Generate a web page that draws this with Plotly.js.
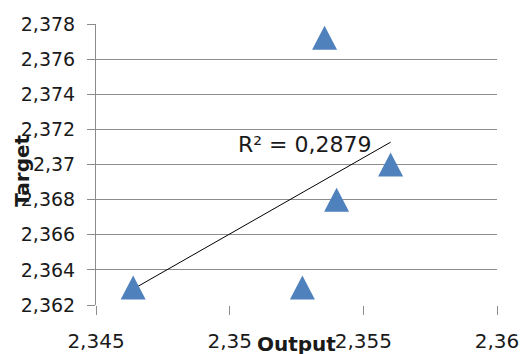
<!DOCTYPE html>
<html>
<head>
<meta charset="utf-8">
<script src="https://cdn.plot.ly/plotly-3.0.1.min.js"></script>
<style>
  html, body { margin: 0; padding: 0; background: #fff; }
  #chart { width: 521px; height: 354px; }
</style>
</head>
<body>
<div id="chart"></div>
<script>
// Output vs Target samples
const outputVals = [2.34639, 2.35272, 2.35355, 2.35602, 2.35400];
const targetVals = [2.363, 2.363, 2.37722, 2.370, 2.368];

// Axis ticks (decimal comma labels)
const xTickVals = [2.345, 2.35, 2.355, 2.36];
const xTickText = ['2,345', '2,35', '2,355', '2,36'];
const yTickVals = [2.362, 2.364, 2.366, 2.368, 2.37, 2.372, 2.374, 2.376, 2.378];
const yTickText = ['2,362', '2,364', '2,366', '2,368', '2,37', '2,372', '2,374', '2,376', '2,378'];

const r2Label = 'R\u00b2 = 0,2879';

// Least-squares linear trend line over the sample range
function linearFit(xs, ys) {
  const n = xs.length;
  const mx = xs.reduce((a, b) => a + b, 0) / n;
  const my = ys.reduce((a, b) => a + b, 0) / n;
  let sxy = 0, sxx = 0;
  for (let i = 0; i < n; i++) {
    sxy += (xs[i] - mx) * (ys[i] - my);
    sxx += (xs[i] - mx) * (xs[i] - mx);
  }
  const slope = sxy / sxx;
  return { slope: slope, intercept: my - slope * mx };
}
const fit = linearFit(outputVals, targetVals);
const xMin = Math.min(...outputVals);
const xMax = Math.max(...outputVals);
const trendX = [xMin, xMax];
const trendY = trendX.map(x => fit.intercept + fit.slope * x);

const markerColor = '#4F81BD';
const gridColor = '#8c8c8c';
const textColor = '#1a1a1a';

// Tall triangle markers (pixel-sized, anchored at each data point)
const triShapes = outputVals.map((x, i) => ({
  type: 'path',
  xref: 'x', yref: 'y',
  xsizemode: 'pixel', ysizemode: 'pixel',
  xanchor: x, yanchor: targetVals[i],
  path: 'M -12.5,-12 L 12.5,-12 L 0,12 Z',
  fillcolor: markerColor,
  line: { width: 0 },
  layer: 'above'
}));

const traces = [
  {
    x: outputVals, y: targetVals,
    type: 'scatter', mode: 'markers',
    marker: { symbol: 'triangle-up', size: 1, color: markerColor, opacity: 0 },
    hoverinfo: 'x+y', showlegend: false
  },
  {
    x: trendX, y: trendY,
    type: 'scatter', mode: 'lines',
    line: { color: '#000000', width: 1 },
    hoverinfo: 'skip', showlegend: false
  }
];

const titleFont = { family: 'DejaVu Sans', size: 20, color: textColor, weight: 'bold' };

const layout = {
  width: 521, height: 354,
  margin: { l: 96, r: 24, t: 24, b: 49, pad: 0 },
  paper_bgcolor: '#ffffff', plot_bgcolor: '#ffffff',
  separators: ',.',
  showlegend: false,
  xaxis: {
    range: [2.345, 2.36],
    tickmode: 'array', tickvals: xTickVals, ticktext: xTickText,
    showgrid: false, zeroline: false,
    showline: false,
    ticks: 'outside', ticklen: 9, tickwidth: 1, tickcolor: gridColor,
    ticklabelstandoff: 9,
    tickfont: { family: 'DejaVu Sans', size: 20, color: textColor },
    fixedrange: true
  },
  yaxis: {
    range: [2.362, 2.378],
    tickmode: 'array', tickvals: yTickVals, ticktext: yTickText,
    showgrid: true, gridcolor: gridColor, gridwidth: 1,
    zeroline: false,
    showline: true, linecolor: gridColor, linewidth: 1,
    ticks: 'outside', ticklen: 8, tickwidth: 1, tickcolor: gridColor,
    ticklabelstandoff: 8,
    tickfont: { family: 'DejaVu Sans', size: 19, color: textColor },
    fixedrange: true
  },
  shapes: triShapes,
  annotations: [
    {
      text: r2Label, x: 2.3528, y: 2.37113, xref: 'x', yref: 'y',
      xanchor: 'center', yanchor: 'middle', showarrow: false,
      font: { family: 'DejaVu Sans', size: 22, color: textColor }
    },
    {
      text: 'Output', xref: 'paper', yref: 'paper', x: 0.5, y: -0.14,
      xanchor: 'center', yanchor: 'middle', showarrow: false,
      font: titleFont
    },
    {
      text: 'Target', xref: 'paper', yref: 'paper', x: -0.185, y: 0.477,
      xanchor: 'center', yanchor: 'middle', showarrow: false, textangle: -90,
      font: titleFont
    }
  ]
};

Plotly.newPlot('chart', traces, layout, { displayModeBar: false, staticPlot: true });
</script>
</body>
</html>
